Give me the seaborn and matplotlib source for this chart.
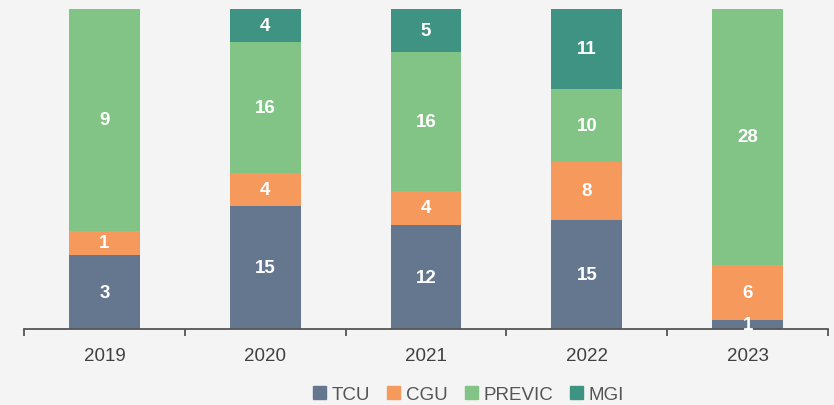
import numpy as np
import matplotlib.pyplot as plt
import seaborn as sns
from matplotlib.patches import Patch

years = ['2019', '2020', '2021', '2022', '2023']
series = ['TCU', 'CGU', 'PREVIC', 'MGI']
tcu = [3, 15, 12, 15, 1]
cgu = [1, 4, 4, 8, 6]
previc = [9, 16, 16, 10, 28]
mgi = [0, 4, 5, 11, 0]
colors = ['#64778f', '#f5995c', '#82c386', '#3f9382']

sns.set_theme(style='white')
plt.rcParams['font.family'] = ['Liberation Sans', 'DejaVu Sans']

values = np.array([tcu, cgu, previc, mgi], dtype=float)
totals = values.sum(axis=0)
fracs = values / totals

fig = plt.figure(figsize=(8.34, 4.06), dpi=100, facecolor='#f4f4f4')
ax = fig.add_axes([24/834, 76/406, 804/834, 320/406])
ax.set_facecolor('#f4f4f4')

bottom = np.zeros(len(years))
for k in range(len(series)):
    sns.barplot(x=years, y=fracs[k], bottom=bottom, color=colors[k],
                width=0.44, saturation=1, ax=ax, linewidth=0)
    for i in range(len(years)):
        if values[k, i] > 0:
            ax.text(i, bottom[i] + fracs[k, i] / 2, str(int(values[k, i])),
                    ha='center', va='center', color='white',
                    fontsize=13.5, fontweight='bold')
    bottom = bottom + fracs[k]

ax.set_ylim(0, 1)
ax.set_xlim(-0.5, len(years) - 0.5)
ax.set_yticks([])
for s in ['top', 'right', 'left']:
    ax.spines[s].set_visible(False)
ax.spines['bottom'].set_color('#555555')
ax.spines['bottom'].set_linewidth(1.3)
ax.set_xticks(np.arange(-0.5, len(years)), minor=True)
ax.tick_params(axis='x', which='minor', bottom=True, length=5, width=1.3,
               color='#555555', direction='out')
ax.tick_params(axis='x', which='major', bottom=False, length=0, pad=13,
               labelsize=13.5, labelcolor='#404040')

handles = [Patch(color=c, label=s) for c, s in zip(colors, series)]
fig.legend(handles=handles, loc='center', bbox_to_anchor=(0.562, 0.025), ncol=4,
           frameon=False, fontsize=13.5, handlelength=0.7, handleheight=0.7,
           handletextpad=0.3, columnspacing=0.9, labelcolor='#555555')

fig.savefig('out.png', dpi=100, facecolor=fig.get_facecolor())
